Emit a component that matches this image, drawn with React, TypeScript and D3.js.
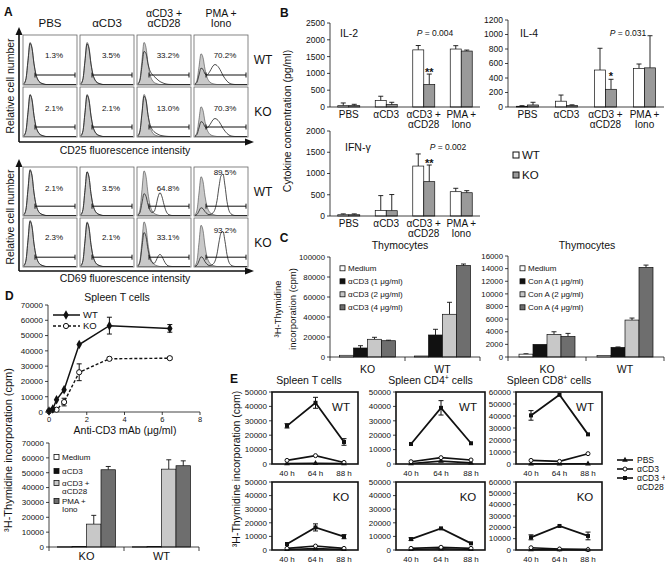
import React from "react";
import * as d3 from "d3";

const FF = "'Liberation Sans', Arial, Helvetica, sans-serif";
const INK = "#111";

// ===== Panel A data =====
const aStimuli = ["PBS", "αCD3", "αCD3 +|αCD28", "PMA +|Iono"];
const aGenotypes = ["WT", "KO"];
const cd25Pct = [["1.3%", "3.5%", "33.2%", "70.2%"], ["2.1%", "2.1%", "13.0%", "70.3%"]];
const cd69Pct = [["2.1%", "3.5%", "64.8%", "89.5%"], ["2.3%", "2.1%", "33.1%", "93.2%"]];
const negPeak = [0.02, 0.14, 0.58, 1.0, 0.88, 0.5, 0.24, 0.11, 0.05, 0.025, 0.01, 0, 0, 0, 0, 0, 0, 0, 0, 0, 0, 0, 0, 0, 0, 0, 0];
const cd25PosAB = [0, 0, 0.05, 0.2, 0.45, 0.7, 0.88, 1.0, 0.95, 0.8, 0.6, 0.42, 0.28, 0.16, 0.08, 0.03, 0.01, 0, 0, 0, 0, 0, 0, 0, 0, 0, 0];
const cd25PosPMA = [0, 0, 0, 0, 0.04, 0.12, 0.28, 0.5, 0.72, 0.92, 1.0, 0.96, 0.84, 0.66, 0.46, 0.3, 0.17, 0.08, 0.03, 0.01, 0, 0, 0, 0, 0, 0, 0];
const cd69PosAB = [0, 0, 0, 0, 0, 0, 0, 0.03, 0.12, 0.4, 0.8, 1.0, 0.82, 0.48, 0.2, 0.06, 0.02, 0, 0, 0, 0, 0, 0, 0, 0, 0, 0];
const cd69PosPMA = [0, 0, 0, 0, 0, 0, 0, 0, 0.02, 0.06, 0.15, 0.36, 0.7, 0.96, 1.0, 0.72, 0.34, 0.12, 0.04, 0.01, 0, 0, 0, 0, 0, 0, 0];
const cd25GrayH = [[0.85, 0.85, 0.85, 0.62], [0.85, 0.85, 0.85, 0.6]];
const cd25NegH = [[0.83, 0.82, 0.64, 0.33], [0.84, 0.83, 0.8, 0.3]];
const cd25PosH = [[0, 0, 0.14, 0.4], [0, 0, 0.06, 0.36]];
const cd69GrayH = [[0.95, 0.9, 0.92, 0.8], [0.95, 0.92, 0.92, 0.85]];
const cd69NegH = [[0.93, 0.9, 0.45, 0.16], [0.93, 0.9, 0.7, 0.2]];
const cd69PosH = [[0, 0, 0.47, 0.85], [0, 0, 0.25, 0.72]];

// ===== Panel B data =====
const cytoCats = ["PBS", "αCD3", "αCD3 +|αCD28", "PMA +|Iono"];
const il2WT = [40, 190, 1700, 1725];
const il2WTErr = [80, 130, 130, 100];
const il2KO = [40, 70, 670, 1665];
const il2KOErr = [40, 70, 310, 30];
const il4WT = [10, 80, 510, 533];
const il4WTErr = [8, 85, 300, 60];
const il4KO = [28, 20, 244, 540];
const il4KOErr = [37, 10, 138, 443];
const ifnWT = [30, 130, 1175, 572];
const ifnWTErr = [20, 350, 285, 80];
const ifnKO = [30, 125, 808, 548];
const ifnKOErr = [20, 380, 392, 48];

// ===== Panel C data =====
const thymoGroups = ["KO", "WT"];
const cd3Legend = ["Medium", "αCD3 (1 μg/ml)", "αCD3 (2 μg/ml)", "αCD3 (4 μg/ml)"];
const cd3KO = [1700, 9000, 17700, 16300];
const cd3KOErr = [0, 2300, 2000, 500];
const cd3WT = [1000, 22000, 42700, 91500];
const cd3WTErr = [0, 5700, 12000, 1500];
const conALegend = ["Medium", "Con A (1 μg/ml)", "Con A (2 μg/ml)", "Con A (4 μg/ml)"];
const conAKO = [450, 2000, 3580, 3260];
const conAKOErr = [60, 0, 420, 480];
const conAWT = [260, 1530, 5850, 14200];
const conAWTErr = [0, 60, 320, 360];

// ===== Panel D data =====
const doseX = [0, 0.2, 0.4, 0.8, 1.6, 3.2, 6.4];
const doseWT = [600, 2000, 8000, 14600, 44100, 56500, 54700];
const doseWTErr = [0, 0, 0, 0, 0, 5500, 2500];
const doseKO = [500, 1500, 1500, 6500, 26000, 34800, 35200];
const doseKOErr = [0, 0, 0, 2500, 5500, 1000, 800];
const doseTicks = [0, 2, 4, 6, 8];
const spleenGroups = ["KO", "WT"];
const spleenStim = ["Medium", "αCD3", "αCD3 +|αCD28", "PMA +|Iono"];
const spleenKO = [200, 300, 15400, 52000];
const spleenKOErr = [0, 0, 5900, 2200];
const spleenWT = [200, 300, 52400, 54700];
const spleenWTErr = [0, 0, 6300, 3300];

// ===== Panel E data =====
const timeLabels = ["40 h", "64 h", "88 h"];
const eSeries = ["PBS", "αCD3", "αCD3 +|αCD28"];
const tWT_PBS = [300, 500, 300];
const tWT_CD3 = [2500, 5800, 1100];
const tWT_AB = [26500, 42500, 15300];
const tWT_ABerr = [1500, 3800, 2300];
const tKO_PBS = [400, 1000, 400];
const tKO_CD3 = [1200, 2900, 1200];
const tKO_AB = [4400, 16600, 9800];
const tKO_ABerr = [0, 2600, 1500];
const cd4WT_PBS = [300, 2000, 800];
const cd4WT_CD3 = [1600, 4400, 2800];
const cd4WT_AB = [13900, 39000, 14400];
const cd4WT_ABerr = [0, 5000, 0];
const cd4KO_PBS = [400, 900, 400];
const cd4KO_CD3 = [1200, 2000, 1200];
const cd4KO_AB = [8000, 15900, 4900];
const cd4KO_ABerr = [1000, 0, 0];
const cd8WT_PBS = [200, 200, 200];
const cd8WT_CD3 = [3000, 2200, 8600];
const cd8WT_AB = [40500, 57700, 24700];
const cd8WT_ABerr = [4000, 0, 0];
const cd8KO_PBS = [300, 300, 300];
const cd8KO_CD3 = [2000, 900, 300];
const cd8KO_AB = [11200, 21200, 12400];
const cd8KO_ABerr = [2200, 0, 3400];

// ================= helpers =================
function Txt(p: any) {
  const { x, y, size = 10, anchor = "middle", weight, style, children, dy, rotate } = p;
  const tr = rotate ? `translate(${x},${y}) rotate(${rotate})` : undefined;
  return (
    <text
      x={rotate ? 0 : x}
      y={rotate ? 0 : y}
      transform={tr}
      fontSize={size}
      textAnchor={anchor}
      fontWeight={weight}
      fontStyle={style}
      dy={dy}
      fill={INK}
    >
      {children}
    </text>
  );
}

function Hist(p: any) {
  const { left, top, h, w, gray, neg, pos, shape, pct, pctDy } = p;
  const idx = d3.range(negPeak.length);
  const x = d3.scaleLinear().domain([0, negPeak.length - 1]).range([left + 1, left + w - 1]);
  const y = d3.scaleLinear().domain([0, 1]).range([top + h - 0.5, top]);
  const area = d3
    .area<number>()
    .x((i) => x(i))
    .y0(top + h - 0.5)
    .y1((i) => y(gray * negPeak[i]))
    .curve(d3.curveMonotoneX);
  const line = d3
    .line<number>()
    .x((i) => x(i))
    .y((i) => y(neg * negPeak[i] + pos * shape[i]))
    .curve(d3.curveMonotoneX);
  const by = top + h * 0.8;
  return (
    <g>
      <rect x={left} y={top} width={w} height={h} fill="#fff" stroke="#666" strokeWidth={0.8} />
      <path d={area(idx) || ""} fill="#c9c9c9" stroke="#444" strokeWidth={0.6} />
      <path d={line(idx) || ""} fill="none" stroke="#222" strokeWidth={0.8} />
      <line x1={left + 12} x2={left + w - 2} y1={by} y2={by} stroke={INK} strokeWidth={1} />
      <line x1={left + 12} x2={left + 12} y1={by - 2.5} y2={by + 2.5} stroke={INK} strokeWidth={1} />
      <line x1={left + w - 2} x2={left + w - 2} y1={by - 2.5} y2={by + 2.5} stroke={INK} strokeWidth={1} />
      <Txt x={left + 31} y={top + pctDy} size={8} dy="0.35em">{pct}</Txt>
    </g>
  );
}

function PanelA() {
  const colLeft = [23, 80, 137, 194];
  const boxW = 54;
  const blocks = [
    {
      rows: [35, 87], h: 50, axisTop: 27, axisY: 142, ylabelY: 86,
      label: "CD25 fluorescence intensity", labelY: 154,
      pct: cd25Pct, gray: cd25GrayH, neg: cd25NegH, pos: cd25PosH,
      shapes: [cd25PosAB, cd25PosAB, cd25PosAB, cd25PosPMA],
      pctDy: [[20, 20, 20, 20], [21, 21, 21, 21]],
    },
    {
      rows: [167, 218], h: 49, axisTop: 159, axisY: 271, ylabelY: 217,
      label: "CD69 fluorescence intensity", labelY: 282,
      pct: cd69Pct, gray: cd69GrayH, neg: cd69NegH, pos: cd69PosH,
      shapes: [cd69PosAB, cd69PosAB, cd69PosAB, cd69PosPMA],
      pctDy: [[21, 21, 21, 5], [19, 19, 19, 12]],
    },
  ];
  return (
    <g>
      <Txt x={4} y={16} size={12} anchor="start" weight="bold">A</Txt>
      {aStimuli.map((s, i) =>
        s.split("|").map((ln, li, arr) => (
          <Txt key={s + li} x={colLeft[i] + boxW / 2} y={arr.length === 1 ? 27 : 16.5 + li * 10.5} size={arr.length === 1 ? 11.5 : 10.5}>
            {ln}
          </Txt>
        ))
      )}
      {blocks.map((b, bi) => (
        <g key={bi}>
          {b.rows.map((top, ri) =>
            colLeft.map((left, ci) => (
              <Hist
                key={`${ri}-${ci}`}
                left={left}
                top={top}
                h={b.h}
                w={boxW}
                gray={b.gray[ri][ci]}
                neg={b.neg[ri][ci]}
                pos={b.pos[ri][ci]}
                shape={b.shapes[ci]}
                pct={b.pct[ri][ci]}
                pctDy={b.pctDy[ri][ci]}
              />
            ))
          )}
          {b.rows.map((top, ri) => (
            <Txt key={"g" + ri} x={263} y={top + b.h / 2} size={12} dy="0.35em">{aGenotypes[ri]}</Txt>
          ))}
          <line x1={19} x2={19} y1={b.axisTop + 6} y2={b.axisY} stroke={INK} strokeWidth={1.6} />
          <line x1={19} x2={246} y1={b.axisY} y2={b.axisY} stroke={INK} strokeWidth={1.6} />
          <polygon points={`19,${b.axisTop} 15.5,${b.axisTop + 8} 22.5,${b.axisTop + 8}`} fill={INK} />
          <polygon points={`254,${b.axisY} 245,${b.axisY - 3.5} 245,${b.axisY + 3.5}`} fill={INK} />
          <Txt x={10} y={b.ylabelY} size={10.5} rotate={-90} dy="0.35em">Relative cell number</Txt>
          <Txt x={125} y={b.labelY} size={10.5}>{b.label}</Txt>
        </g>
      ))}
    </g>
  );
}

function BarChart(props: any) {
  const {
    x0, x1, yB, yT, max, step, groups, values, errs, colors, barW,
    tickFs = 8.5, catFs = 10, catDy = 10.5, catLine = 10, boundaryTicks = false,
  } = props;
  const x = d3.scaleBand<string>().domain(groups).range([x0, x1]);
  const y = d3.scaleLinear().domain([0, max]).range([yB, yT]);
  const ticks = d3.range(0, max + step / 2, step);
  const nS = values[0].length;
  return (
    <g>
      {groups.map((g: string, gi: number) => {
        const cx = (x(g) as number) + x.bandwidth() / 2;
        return values[gi].map((v: number, si: number) => {
          const bx = cx - (nS * barW) / 2 + si * barW;
          const e = errs ? errs[gi][si] : 0;
          const ty = y(v);
          const ey = y(v + e);
          const mx = bx + barW / 2;
          return (
            <g key={`${gi}-${si}`}>
              {e > 0 && <line x1={mx} x2={mx} y1={ty} y2={ey} stroke={INK} strokeWidth={0.9} />}
              {e > 0 && <line x1={mx - 2.5} x2={mx + 2.5} y1={ey} y2={ey} stroke={INK} strokeWidth={0.9} />}
              <rect x={bx} y={ty} width={barW} height={Math.max(0.5, yB - ty)} fill={colors[si]} stroke={INK} strokeWidth={0.7} />
            </g>
          );
        });
      })}
      <line x1={x0} x2={x0} y1={yB} y2={yT} stroke={INK} strokeWidth={0.8} />
      <line x1={x0} x2={x1} y1={yB} y2={yB} stroke={INK} strokeWidth={0.8} />
      {ticks.map((t: number) => (
        <g key={t}>
          <line x1={x0 - 3} x2={x0} y1={y(t)} y2={y(t)} stroke={INK} strokeWidth={0.8} />
          <Txt x={x0 - 5} y={y(t)} size={tickFs} anchor="end" dy="0.35em">{t}</Txt>
        </g>
      ))}
      {boundaryTicks &&
        d3.range(groups.length + 1).map((i) => {
          const bx = x0 + i * x.step();
          return <line key={i} x1={bx} x2={bx} y1={yB} y2={yB + 4} stroke={INK} strokeWidth={0.8} />;
        })}
      {groups.map((g: string) =>
        g.split("|").map((ln, li) => (
          <Txt key={g + li} x={(x(g) as number) + x.bandwidth() / 2} y={yB + catDy + li * catLine} size={catFs}>
            {ln}
          </Txt>
        ))
      )}
    </g>
  );
}

function PStat({ x, y, v }: any) {
  return (
    <text x={x} y={y} fontSize={8.5} textAnchor="middle" fill={INK}>
      <tspan fontStyle="italic">P</tspan> = {v}
    </text>
  );
}

function PanelB() {
  const wk = ["#ffffff", "#9a9a9a"];
  const pair = (a: number[], b: number[]) => cytoCats.map((_, i) => [a[i], b[i]]);
  const il2Y = d3.scaleLinear().domain([0, 2500]).range([107, 23]);
  const il4Y = d3.scaleLinear().domain([0, 1200]).range([107, 20]);
  const ifnY = d3.scaleLinear().domain([0, 2000]).range([216, 131]);
  const il2X = d3.scaleBand<string>().domain(cytoCats).range([330, 480]);
  const il4X = d3.scaleBand<string>().domain(cytoCats).range([508, 664]);
  const koX = (sc: any) => (sc(cytoCats[2]) as number) + sc.bandwidth() / 2 + 5.5;
  return (
    <g>
      <Txt x={280} y={17} size={12} anchor="start" weight="bold">B</Txt>
      <Txt x={287} y={121} size={10.5} rotate={-90} dy="0.35em">Cytokine concentration (pg/ml)</Txt>
      <BarChart x0={330} x1={480} yB={107} yT={23} max={2500} step={500} groups={cytoCats}
        values={pair(il2WT, il2KO)} errs={pair(il2WTErr, il2KOErr)} colors={wk} barW={11} />
      <Txt x={340} y={37} size={10.5} anchor="start">IL-2</Txt>
      <PStat x={435} y={36} v="0.004" />
      <Txt x={koX(il2X)} y={il2Y(il2KO[2] + il2KOErr[2]) + 2} size={11} weight="bold">**</Txt>

      <BarChart x0={508} x1={664} yB={107} yT={20} max={1200} step={200} groups={cytoCats}
        values={pair(il4WT, il4KO)} errs={pair(il4WTErr, il4KOErr)} colors={wk} barW={11} />
      <Txt x={520} y={37} size={10.5} anchor="start">IL-4</Txt>
      <PStat x={628} y={36} v="0.031" />
      <Txt x={koX(il4X)} y={il4Y(il4KO[2] + il4KOErr[2]) + 1} size={11} weight="bold">*</Txt>

      <BarChart x0={330} x1={480} yB={216} yT={131} max={2000} step={500} groups={cytoCats}
        values={pair(ifnWT, ifnKO)} errs={pair(ifnWTErr, ifnKOErr)} colors={wk} barW={11} />
      <Txt x={345} y={151} size={10.5} anchor="start">IFN-γ</Txt>
      <PStat x={448} y={150} v="0.002" />
      <Txt x={koX(il2X)} y={ifnY(ifnKO[2] + ifnKOErr[2]) + 2} size={11} weight="bold">**</Txt>

      {["WT", "KO"].map((g, i) => (
        <g key={g}>
          <rect x={513} y={152 + i * 20} width={6} height={6} fill={wk[i]} stroke={INK} strokeWidth={1} />
          <Txt x={522} y={155 + i * 20} size={11.5} anchor="start" dy="0.35em">{g}</Txt>
        </g>
      ))}
    </g>
  );
}

function SquareLegend({ x, ys, labels, colors, size = 8, lineGap = 8.5 }: any) {
  return (
    <g>
      {labels.map((l: string, i: number) =>
        l.split("|").map((ln, li) => (
          <g key={l + li}>
            {li === 0 && (
              <rect x={x} y={ys[i] - 2.5} width={5} height={5} fill={colors[i]} stroke={INK} strokeWidth={0.8} />
            )}
            <Txt x={x + 8} y={ys[i] + li * lineGap} size={size} anchor="start" dy="0.35em">{ln}</Txt>
          </g>
        ))
      )}
    </g>
  );
}

const fourColors = ["#ffffff", "#111111", "#c8c8c8", "#6e6e6e"];

function PanelC() {
  const tr = (a: number[], b: number[]) => [a, b];
  return (
    <g>
      <Txt x={284} y={242} size={12} weight="bold">C</Txt>
      <Txt x={400} y={249} size={10.5}>Thymocytes</Txt>
      <Txt x={587} y={249} size={10.5}>Thymocytes</Txt>
      <Txt x={278} y={309} size={9.5} rotate={-90} dy="0.35em">³H-Thymidine</Txt>
      <Txt x={293} y={309} size={9.5} rotate={-90} dy="0.35em">incorporation (cpm)</Txt>
      <BarChart x0={330} x1={480} yB={357} yT={257} max={100000} step={20000} groups={thymoGroups}
        values={tr(cd3KO, cd3WT)} errs={tr(cd3KOErr, cd3WTErr)} colors={fourColors} barW={14}
        tickFs={7.8} catFs={10.5} catDy={15.5} boundaryTicks />
      <SquareLegend x={340} ys={[268.3, 281.3, 294.3, 307.3]} labels={cd3Legend} colors={fourColors} />
      <BarChart x0={508} x1={664} yB={357} yT={256} max={16000} step={2000} groups={thymoGroups}
        values={tr(conAKO, conAWT)} errs={tr(conAKOErr, conAWTErr)} colors={fourColors} barW={14}
        tickFs={7.8} catFs={10.5} catDy={15.5} boundaryTicks />
      <SquareLegend x={520} ys={[268.3, 281.3, 294.3, 307.3]} labels={conALegend} colors={fourColors} />
    </g>
  );
}

function PanelD() {
  const x = d3.scaleLinear().domain([0, 8]).range([49, 200]);
  const y = d3.scaleLinear().domain([0, 70000]).range([412, 305]);
  const yTicks = d3.range(0, 70001, 10000);
  const idx = d3.range(doseX.length);
  const lineWT = d3.line<number>().x((i) => x(doseX[i])).y((i) => y(doseWT[i]));
  const lineKO = d3.line<number>().x((i) => x(doseX[i])).y((i) => y(doseKO[i]));
  const diamond = d3.symbol(d3.symbolDiamond, 26)() || "";
  const err = (xv: number, v: number, e: number, k: string) =>
    e > 0 ? (
      <g key={k}>
        <line x1={x(xv)} x2={x(xv)} y1={y(v - e)} y2={y(v + e)} stroke={INK} strokeWidth={1} />
        <line x1={x(xv) - 2.5} x2={x(xv) + 2.5} y1={y(v - e)} y2={y(v - e)} stroke={INK} strokeWidth={1} />
        <line x1={x(xv) - 2.5} x2={x(xv) + 2.5} y1={y(v + e)} y2={y(v + e)} stroke={INK} strokeWidth={1} />
      </g>
    ) : null;
  return (
    <g>
      <Txt x={5} y={300} size={12} anchor="start" weight="bold">D</Txt>
      <Txt x={117} y={301} size={10.5}>Spleen T cells</Txt>
      <Txt x={8} y={450} size={11} rotate={-90} dy="0.35em">³H-Thymidine incorporation (cpm)</Txt>
      <line x1={48} x2={48} y1={305} y2={412} stroke={INK} strokeWidth={0.8} />
      <line x1={48} x2={200} y1={412} y2={412} stroke={INK} strokeWidth={0.8} />
      {yTicks.map((t) => (
        <g key={t}>
          <line x1={45} x2={48} y1={y(t)} y2={y(t)} stroke={INK} strokeWidth={0.8} />
          <Txt x={43} y={y(t)} size={8} anchor="end" dy="0.35em">{t}</Txt>
        </g>
      ))}
      {doseTicks.map((t) => (
        <g key={t}>
          <line x1={x(t)} x2={x(t)} y1={412} y2={415} stroke={INK} strokeWidth={0.8} />
          <Txt x={x(t)} y={421.5} size={7.5}>{t}</Txt>
        </g>
      ))}
      <Txt x={125} y={434} size={10.5}>Anti-CD3 mAb (μg/ml)</Txt>
      <path d={lineKO(idx) || ""} fill="none" stroke={INK} strokeWidth={1.4} strokeDasharray="3,2" />
      <path d={lineWT(idx) || ""} fill="none" stroke={INK} strokeWidth={1.5} />
      {idx.map((i) => err(doseX[i], doseWT[i], doseWTErr[i], "we" + i))}
      {idx.map((i) => err(doseX[i], doseKO[i], doseKOErr[i], "ke" + i))}
      {idx.map((i) => (
        <circle key={"k" + i} cx={x(doseX[i])} cy={y(doseKO[i])} r={2.6} fill="#fff" stroke={INK} strokeWidth={1} />
      ))}
      {idx.map((i) => (
        <path key={"w" + i} d={diamond} transform={`translate(${x(doseX[i])},${y(doseWT[i])})`} fill={INK} />
      ))}
      {/* legend */}
      <line x1={53} x2={80} y1={315} y2={315} stroke={INK} strokeWidth={1.5} />
      <path d={diamond} transform="translate(66,315)" fill={INK} />
      <Txt x={83} y={315} size={9.5} anchor="start" dy="0.35em">WT</Txt>
      <line x1={53} x2={80} y1={326} y2={326} stroke={INK} strokeWidth={1.4} strokeDasharray="3,2" />
      <circle cx={66} cy={326} r={2.6} fill="#fff" stroke={INK} strokeWidth={1} />
      <Txt x={83} y={326} size={9.5} anchor="start" dy="0.35em">KO</Txt>

      <BarChart x0={49} x1={199} yB={547} yT={443} max={70000} step={10000} groups={spleenGroups}
        values={[spleenKO, spleenWT]} errs={[spleenKOErr, spleenWTErr]} colors={fourColors} barW={14.5}
        tickFs={8} catFs={11} catDy={13} boundaryTicks />
      <SquareLegend x={54} ys={[457, 471, 483, 501]} labels={spleenStim} colors={fourColors} size={8} lineGap={8.6} />
    </g>
  );
}

function TimeChart(p: any) {
  const { left, right, top, bottom, max, pbs, cd3, ab, abErr, tag } = p;
  const x = d3.scalePoint<string>().domain(timeLabels).range([left + 15, right - 14]);
  const y = d3.scaleLinear().domain([0, max]).range([bottom, top]);
  const ticks = d3.range(0, max + 1, 10000);
  const idx = [0, 1, 2];
  const mk = (arr: number[]) =>
    d3.line<number>().x((i) => x(timeLabels[i]) as number).y((i) => y(arr[i]))(idx) || "";
  const tri = d3.symbol(d3.symbolTriangle, 14)() || "";
  return (
    <g>
      {ticks.map((t: number) => (
        <g key={t}>
          <line x1={left - 3} x2={left} y1={y(t)} y2={y(t)} stroke={INK} strokeWidth={0.8} />
          <Txt x={left - 5} y={y(t)} size={8} anchor="end" dy="0.35em">{t}</Txt>
        </g>
      ))}
      {timeLabels.map((t) => (
        <Txt key={t} x={x(t)} y={bottom + 12} size={8}>{t}</Txt>
      ))}
      <path d={mk(pbs)} fill="none" stroke={INK} strokeWidth={1.6} />
      <path d={mk(cd3)} fill="none" stroke={INK} strokeWidth={1.6} />
      <path d={mk(ab)} fill="none" stroke={INK} strokeWidth={1.8} />
      {idx.map((i) => {
        const cx = x(timeLabels[i]) as number;
        const e = abErr[i];
        return (
          <g key={i}>
            {e > 0 && (
              <g>
                <line x1={cx} x2={cx} y1={y(ab[i] - e)} y2={y(ab[i] + e)} stroke={INK} strokeWidth={1} />
                <line x1={cx - 2.5} x2={cx + 2.5} y1={y(ab[i] + e)} y2={y(ab[i] + e)} stroke={INK} strokeWidth={1} />
                <line x1={cx - 2.5} x2={cx + 2.5} y1={y(ab[i] - e)} y2={y(ab[i] - e)} stroke={INK} strokeWidth={1} />
              </g>
            )}
            <path d={tri} transform={`translate(${cx},${y(pbs[i])})`} fill={INK} />
            <circle cx={cx} cy={y(cd3[i])} r={2} fill="#fff" stroke={INK} strokeWidth={1} />
            <rect x={cx - 2} y={y(ab[i]) - 2} width={4} height={4} fill={INK} />
          </g>
        );
      })}
      <rect x={left} y={top} width={right - left} height={bottom - top} fill="none" stroke={INK} strokeWidth={1.6} />
      <Txt x={right - 17} y={top + 15} size={11.5} dy="0.35em">{tag}</Txt>
    </g>
  );
}

function PanelE() {
  const cols = [
    { left: 272, right: 358, max: 50000, title: "Spleen T cells", sup: "",
      wt: [tWT_PBS, tWT_CD3, tWT_AB, tWT_ABerr], ko: [tKO_PBS, tKO_CD3, tKO_AB, tKO_ABerr] },
    { left: 396, right: 485, max: 50000, title: "Spleen CD4", sup: "+",
      wt: [cd4WT_PBS, cd4WT_CD3, cd4WT_AB, cd4WT_ABerr], ko: [cd4KO_PBS, cd4KO_CD3, cd4KO_AB, cd4KO_ABerr] },
    { left: 516, right: 602, max: 60000, title: "Spleen CD8", sup: "+",
      wt: [cd8WT_PBS, cd8WT_CD3, cd8WT_AB, cd8WT_ABerr], ko: [cd8KO_PBS, cd8KO_CD3, cd8KO_AB, cd8KO_ABerr] },
  ];
  const tri = d3.symbol(d3.symbolTriangle, 14)() || "";
  const legY = [460, 469, 478];
  return (
    <g>
      <Txt x={230} y={383} size={12} anchor="start" weight="bold">E</Txt>
      <Txt x={236} y={469} size={10.5} rotate={-90} dy="0.35em">³H-Thymidine incorporation (cpm)</Txt>
      {cols.map((c, ci) => (
        <g key={ci}>
          <text x={(c.left + c.right) / 2 - 6 + (ci === 0 ? 0 : -4)} y={384} fontSize={10.5} textAnchor="middle" fill={INK}>
            {c.title}
            {c.sup && <tspan dy={-4} fontSize={7}>{c.sup}</tspan>}
            {c.sup && <tspan dy={4}> cells</tspan>}
          </text>
          <TimeChart left={c.left} right={c.right} top={392} bottom={464} max={c.max}
            pbs={c.wt[0]} cd3={c.wt[1]} ab={c.wt[2]} abErr={c.wt[3]} tag="WT" />
          <TimeChart left={c.left} right={c.right} top={482} bottom={550} max={c.max}
            pbs={c.ko[0]} cd3={c.ko[1]} ab={c.ko[2]} abErr={c.ko[3]} tag="KO" />
        </g>
      ))}
      {eSeries.map((s, i) => (
        <g key={s}>
          <line x1={617} x2={633} y1={legY[i]} y2={legY[i]} stroke={INK} strokeWidth={1.6} />
          {i === 0 && <path d={tri} transform={`translate(625,${legY[i]})`} fill={INK} />}
          {i === 1 && <circle cx={625} cy={legY[i]} r={2} fill="#fff" stroke={INK} strokeWidth={1} />}
          {i === 2 && <rect x={623} y={legY[i] - 2} width={4} height={4} fill={INK} />}
          {s.split("|").map((ln, li) => (
            <Txt key={ln} x={637} y={legY[i] + li * 9} size={8.5} anchor="start" dy="0.35em">{ln}</Txt>
          ))}
        </g>
      ))}
    </g>
  );
}

export default function App() {
  return (
    <div style={{ position: "absolute", left: 0, top: 0 }}>
      <svg width={665} height={566} style={{ display: "block", fontFamily: FF }} fontFamily={FF}>
        <rect width={665} height={566} fill="#fff" />
        <PanelA />
        <PanelB />
        <PanelC />
        <PanelD />
        <PanelE />
      </svg>
    </div>
  );
}
